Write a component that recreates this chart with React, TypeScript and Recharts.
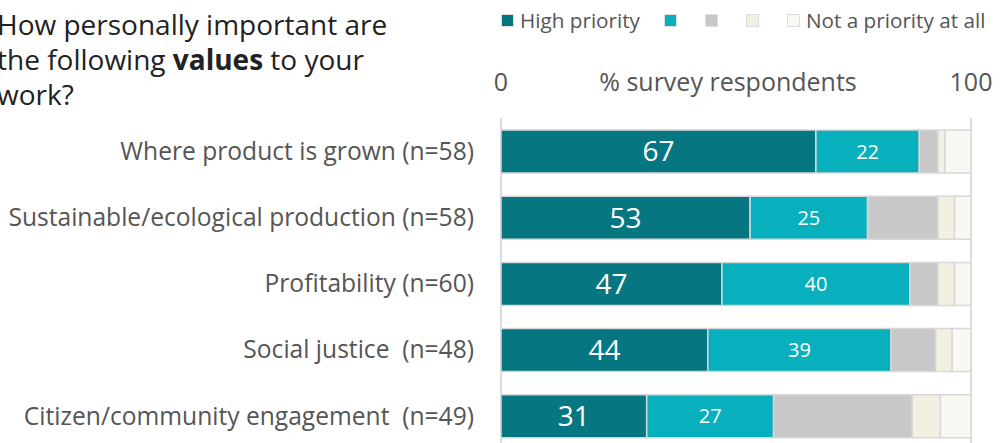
import { BarChart, Bar, XAxis, YAxis, CartesianGrid, LabelList, Label } from 'recharts'

const categories = [
  'Where product is grown (n=58)',
  'Sustainable/ecological production (n=58)',
  'Profitability (n=60)',
  'Social justice\u00a0 (n=48)',
  'Citizen/community engagement\u00a0 (n=49)',
]
const highPriority = [67, 53, 47, 44, 31]
const priority2 = [22, 25, 40, 39, 27]
const priority3 = [4, 15, 6, 9.5, 29.5]
const priority4 = [1.5, 3.5, 3.5, 3.5, 6]
const notPriority = [5.5, 3.5, 3.5, 4, 6.5]
const xTicks = [0, 100]

const SERIES = [
  { key: 'p1', name: 'High priority', color: '#067780' },
  { key: 'p2', name: '', color: '#08b0be' },
  { key: 'p3', name: '', color: '#c8c8c8' },
  { key: 'p4', name: '', color: '#f3efe1' },
  { key: 'p5', name: 'Not a priority at all', color: '#faf8f2' },
]

const data = categories.map((cat, i) => ({
  cat,
  p1: highPriority[i],
  p2: priority2[i],
  p3: priority3[i],
  p4: priority4[i],
  p5: notPriority[i],
}))

const FONT = '"Open Sans", sans-serif'

// legend drawn outside the chart so it doesn't eat plot height
function SquareLegend() {
  return (
    <div
      style={{
        position: 'absolute',
        left: 501,
        top: 6,
        display: 'flex',
        alignItems: 'center',
        fontFamily: FONT,
        fontSize: 20.7,
        color: '#555',
        whiteSpace: 'nowrap',
      }}
    >
      {SERIES.map((s) => (
        <span key={s.key} style={{ display: 'flex', alignItems: 'center', marginRight: s.name ? 24 : 28 }}>
          <span
            style={{
              display: 'inline-block',
              width: 13,
              height: 13,
              background: s.color,
              border: '1px solid #ddd',
              boxSizing: 'border-box',
            }}
          />
          {s.name && <span style={{ marginLeft: 6 }}>{s.name}</span>}
        </span>
      ))}
    </div>
  )
}

function AxisTitle(props: any) {
  const vb = props.viewBox || {}
  return (
    <text
      x={vb.x + vb.width / 2 - 8}
      y={vb.y + vb.height - 27}
      textAnchor="middle"
      fontFamily={FONT}
      fontSize={25}
      fill="#555"
    >
      % survey respondents
    </text>
  )
}

export default function App() {
  return (
    <div style={{ position: 'absolute', left: 0, top: 0, width: 1004, height: 443, overflow: 'hidden', background: '#fff' }}>
      <div
        style={{
          position: 'absolute',
          left: -3,
          top: 7,
          width: 460,
          fontFamily: FONT,
          fontSize: 28,
          lineHeight: '35px',
          color: '#222',
          whiteSpace: 'nowrap',
        }}
      >
        How personally important are
        <br />
        the following <b>values</b> to your
        <br />
        work?
      </div>
      <SquareLegend />
      <BarChart
        width={1004}
        height={450}
        data={data}
        layout="vertical"
        margin={{ top: 78, right: 33, bottom: 1, left: 0 }}
      >
        <CartesianGrid horizontal={false} stroke="#dddddd" strokeWidth={2} />
        <XAxis
          type="number"
          orientation="top"
          domain={[0, 100]}
          ticks={xTicks}
          height={40}
          axisLine={false}
          tickLine={false}
          tickSize={0}
          tickMargin={27}
          tick={{ fontSize: 25, fill: '#555', fontFamily: FONT }}
        >
          <Label content={<AxisTitle />} />
        </XAxis>
        <YAxis
          type="category"
          dataKey="cat"
          width={501}
          axisLine={false}
          tickLine={false}
          tickSize={0}
          tickMargin={27}
          tick={{ fontSize: 24.6, fill: '#555', fontFamily: FONT }}
        />
        {SERIES.map((s, i) => (
          <Bar
            key={s.key}
            dataKey={s.key}
            name={s.name}
            stackId="a"
            fill={s.color}
            stroke="#d8d8d8"
            strokeWidth={1.5}
            barSize={43}
            isAnimationActive={false}
          >
            {i === 0 && (
              <LabelList dataKey={s.key} position="center" fill="#fff" fontSize={28} fontFamily={FONT} />
            )}
            {i === 1 && (
              <LabelList dataKey={s.key} position="center" fill="#fff" fontSize={20} fontFamily={FONT} />
            )}
          </Bar>
        ))}
      </BarChart>
    </div>
  )
}
